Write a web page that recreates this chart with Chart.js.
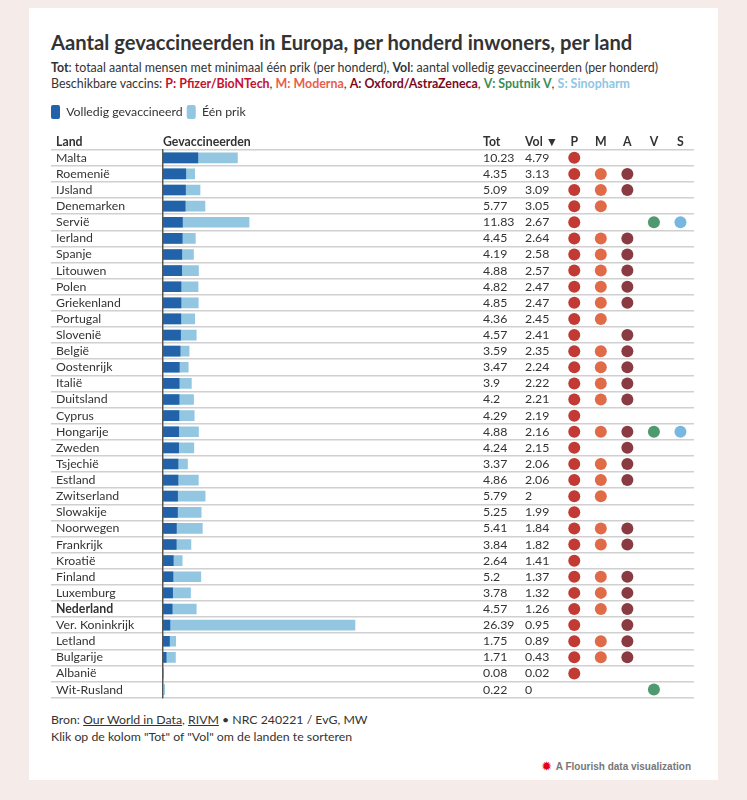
<!DOCTYPE html>
<html><head><meta charset="utf-8">
<script src="https://cdn.jsdelivr.net/npm/chart.js@4"></script>
<style>
html,body{margin:0;padding:0;background:#f5ecea;}
body{width:747px;height:800px;position:relative;overflow:hidden;font-family:Lato,sans-serif;color:#333;}
#card{position:absolute;left:29px;top:8px;width:689px;height:772px;background:#fff;}
#title{position:absolute;left:51px;top:30px;font-size:20.2px;font-weight:bold;white-space:nowrap;color:#333;}
#sub{position:absolute;left:51px;top:60px;font-size:12.4px;line-height:16px;white-space:nowrap;}
#chartbox{position:absolute;left:47px;top:101px;width:653px;height:607px;}
#foot{position:absolute;left:51px;top:711px;font-size:12.3px;line-height:17px;white-space:nowrap;}
#foot u{text-decoration:underline;}
#badge{position:absolute;right:56px;top:760px;font:bold 10px "Liberation Sans",Arial,sans-serif;color:#777;white-space:nowrap;}
#badge i{font-style:normal;color:#e3001b;font-size:11px;margin-right:2px;}
.p{color:#c4122f;font-weight:bold}.m{color:#e8604c;font-weight:bold}.a{color:#7d0a1e;font-weight:bold}.v{color:#3d8c5a;font-weight:bold}.s{color:#8ec6e6;font-weight:bold}
</style></head>
<body>
<div id="card"></div>
<div id="title">Aantal gevaccineerden in Europa, per honderd inwoners, per land</div>
<div id="sub"><b>Tot</b>: totaal aantal mensen met minimaal één prik (per honderd), <b>Vol</b>: aantal volledig gevaccineerden (per honderd)<br>Beschikbare vaccins: <span class="p">P: Pfizer/BioNTech</span>, <span class="m">M: Moderna</span>, <span class="a">A: Oxford/AstraZeneca</span>, <span class="v">V: Sputnik V</span>, <span class="s">S: Sinopharm</span></div>
<div id="chartbox"><canvas id="c"></canvas></div>
<div id="foot">Bron: <u>Our World in Data</u>, <u>RIVM</u> • NRC 240221 / EvG, MW<br>Klik op de kolom "Tot" of "Vol" om de landen te sorteren</div>
<div id="badge"><i>✹</i> A Flourish data visualization</div>
<script>
// ---- data ----
const countries = ['Malta','Roemenië','IJsland','Denemarken','Servië','Ierland','Spanje','Litouwen','Polen','Griekenland','Portugal','Slovenië','België','Oostenrijk','Italië','Duitsland','Cyprus','Hongarije','Zweden','Tsjechië','Estland','Zwitserland','Slowakije','Noorwegen','Frankrijk','Kroatië','Finland','Luxemburg','Nederland','Ver. Koninkrijk','Letland','Bulgarije','Albanië','Wit-Rusland'];
const tot = [10.23,4.35,5.09,5.77,11.83,4.45,4.19,4.88,4.82,4.85,4.36,4.57,3.59,3.47,3.9,4.2,4.29,4.88,4.24,3.37,4.86,5.79,5.25,5.41,3.84,2.64,5.2,3.78,4.57,26.39,1.75,1.71,0.08,0.22];
const vol = [4.79,3.13,3.09,3.05,2.67,2.64,2.58,2.57,2.47,2.47,2.45,2.41,2.35,2.24,2.22,2.21,2.19,2.16,2.15,2.06,2.06,2,1.99,1.84,1.82,1.41,1.37,1.32,1.26,0.95,0.89,0.43,0.02,0];
const vaccineCodes = ['P','M','A','V','S'];
const availability = ['P','PMA','PMA','PM','PVS','PMA','PMA','PMA','PMA','PMA','PM','PA','PMA','PMA','PMA','PMA','P','PMAVS','PA','PMA','PMA','PM','P','PMA','PMA','P','PMA','PMA','PMA','PA','PMA','PMA','P','V'];
const highlight = 'Nederland';
const seriesNames = ['Volledig gevaccineerd','Één prik'];
const headers = {land:'Land', bars:'Gevaccineerden', tot:'Tot', vol:'Vol ▼'};

// ---- style ----
const FONT = 'Lato, sans-serif';
const FS = 12.3;
const TEXT = '#333';
const DARK = '#2162a9';
const LIGHT = '#93c6e1';
const DOT = ['#c23a34','#e06b48','#8a3b42','#4e9a6e','#78b8e0'];
const GRID = '#d0d0d0';
const TOT_X = 320, VOL_X = 362;

const tableText = {
  id:'tableText',
  afterDraw(chart){
    const {ctx, chartArea, scales} = chart;
    const y = scales.y;
    ctx.save();
    ctx.fillStyle = TEXT;
    ctx.textBaseline = 'middle';
    ctx.textAlign = 'left';
    ctx.font = FS + 'px ' + FONT;
    countries.forEach((c,i)=>{
      const py = y.getPixelForValue(i);
      ctx.fillText(String(tot[i]), chartArea.left + TOT_X, py);
      ctx.fillText(String(vol[i]), chartArea.left + VOL_X, py);
    });
    ctx.font = 'bold ' + FS + 'px ' + FONT;
    const hy = chartArea.top - 8;
    ctx.fillText(headers.land, y.left, hy);
    ctx.fillText(headers.bars, chartArea.left, hy);
    ctx.fillText(headers.tot, chartArea.left + TOT_X, hy);
    ctx.fillText(headers.vol, chartArea.left + VOL_X, hy);
    ctx.restore();
  }
};

const datasets = [
  {type:'bar', label:seriesNames[0], data:vol, backgroundColor:DARK, indexAxis:'y', xAxisID:'x', yAxisID:'y', grouped:false, barThickness:10, order:0},
  {type:'bar', label:seriesNames[1], data:tot, backgroundColor:LIGHT, indexAxis:'y', xAxisID:'x', yAxisID:'y', grouped:false, barThickness:10, order:1}
].concat(vaccineCodes.map((code,vi)=>({
  type:'scatter', label:code,
  data: countries.filter((c,i)=>availability[i].includes(code)).map(c=>({x:vi, y:c})),
  xAxisID:'xv', yAxisID:'y', pointRadius:6, pointHoverRadius:6,
  backgroundColor:DOT[vi], pointBackgroundColor:DOT[vi], borderWidth:0, pointBorderWidth:0, order:2
})));

Chart.defaults.font.family = FONT;
Chart.defaults.color = TEXT;

new Chart(document.getElementById('c'), {
  type:'bar',
  data:{labels:countries, datasets},
  options:{
    responsive:true, maintainAspectRatio:false, animation:false,
    layout:{padding:{top:0,right:4,bottom:1,left:0}},
    plugins:{
      legend:{display:true, position:'top', align:'start',
        labels:{boxWidth:9, boxHeight:14, padding:4, color:TEXT, font:{size:FS},
          useBorderRadius:true, borderRadius:2,
          filter:(item)=>item.datasetIndex < 2}},
      tooltip:{enabled:false}
    },
    scales:{
      pad:{axis:'y', type:'linear', position:'left', weight:10, display:true,
        ticks:{display:false}, grid:{display:false}, border:{display:false},
        afterFit:(s)=>{s.width = 9;}},
      y:{type:'category', position:'left', offset:true, weight:0,
        ticks:{crossAlign:'far', color:TEXT, autoSkip:false,
          font:(ctx)=>({size:FS, family:FONT, weight: (ctx.tick && ctx.tick.label===highlight) ? 'bold':'normal'})},
        grid:{offset:true, color:GRID, lineWidth:1.5, drawTicks:true, tickLength:112},
        border:{display:true, color:'#555', width:1.5},
        afterFit:(s)=>{s.width = 107;}},
      x:{type:'linear', min:0, max:73, offset:false, display:false},
      xv:{type:'linear', position:'top', min:-15.49, max:4.51, offset:false, display:true,
        afterBuildTicks:(s)=>{s.ticks = vaccineCodes.map((c,i)=>({value:i}));},
        afterFit:(s)=>{s.height += 6;},
        ticks:{callback:(v)=>vaccineCodes[v], color:TEXT, font:{size:FS, weight:'bold'}, padding:0, autoSkip:false, maxRotation:0},
        grid:{display:false, drawTicks:false}, border:{display:false}}
    }
  },
  plugins:[tableText]
});
</script>
</body></html>
